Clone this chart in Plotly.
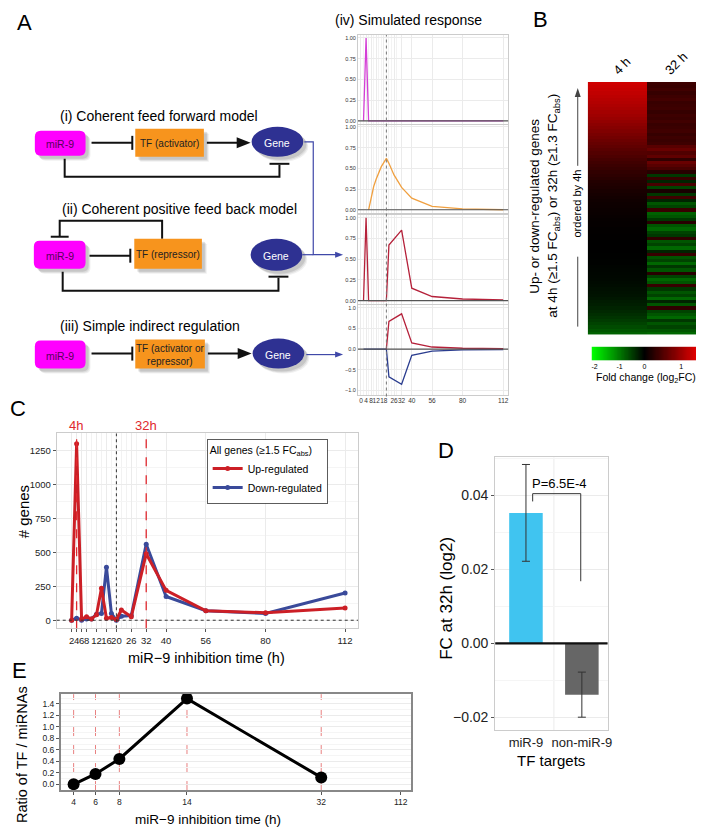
import plotly.graph_objects as go
import numpy as np

W, H = 704, 827
FONT = "Liberation Sans, Arial, Helvetica, sans-serif"


def X(p):
    return p / W


def Y(p):
    return 1 - p / H


# ---------------- data ----------------
# Panel A (iv) simulated response
sim_t = [0, 2, 4, 6, 8, 10, 12, 16, 20, 22, 26, 32, 40, 56, 80, 112]
sim_mir9 = [None, 0, 1, 0, 0, 0, 0, 0, 0, 0, 0, 0, 0, 0, 0, 0]
sim_tf = [None, None, None, 0, 0.15, 0.28, 0.37, 0.52, 0.62, 0.56, 0.42, 0.27, 0.14, 0.04, 0.01, 0.0]
sim_gene_fb = [None, 0, 1, 0, 0, 0, 0, 0, 0, 0.67, 0.74, 0.85, 0.15, 0.05, 0.02, 0.01]
sim_gene_up = [None, None, None, None, None, None, None, None, 0, 0.67, 0.74, 0.85, 0.15, 0.05, 0.02, 0.01]
sim_gene_down = [None, 0, 0, 0, 0, 0, 0, 0, 0, -0.67, -0.74, -0.85, -0.15, -0.05, -0.02, -0.01]
sim_ticks = [0, 4, 8, 12, 18, 26, 32, 40, 56, 80, 112]

# Panel B heatmap (rows ordered by 4h, top to bottom)
heat_cols = ["4 h", "32 h"]
heat_4h = [1.30, 1.27, 1.24, 1.21, 1.18, 1.15, 1.12, 1.09, 1.06, 1.03,
           1.00, 0.96, 0.92, 0.88, 0.84, 0.80, 0.76, 0.72, 0.68, 0.64,
           0.60, 0.56, 0.52, 0.48, 0.44, 0.40, 0.37, 0.34, 0.31, 0.28,
           0.25, 0.22, 0.20, 0.18, 0.16, 0.14, 0.12, 0.10, 0.09, 0.08,
           0.07, 0.06, 0.05, 0.04, 0.03, 0.03, 0.02, 0.02, 0.01, 0.01,
           0.00, 0.00, 0.00, 0.00, -0.01, -0.01, -0.02, -0.02, -0.03, -0.04,
           -0.05, -0.06, -0.07, -0.08, -0.10, -0.12, -0.14, -0.16, -0.19, -0.22,
           -0.25, -0.29, -0.33, -0.38, -0.43, -0.49, -0.55, -0.62, -0.70, -0.80]
heat_32h = [0.38, 0.36, 0.40, 0.34, 0.38, 0.42, 0.35, 0.37, 0.39, 0.33,
            0.38, 0.36, 0.41, 0.35, 0.37, 0.40, 0.34, 0.38, 0.36, 0.39,
            0.55, 0.65, 0.50, 0.60, 0.30, 0.65, 0.55, 0.45,
            0.25, -0.45, 0.35, -0.30, 0.45, -0.55, 0.15, -0.45, 0.40, -0.30,
            -0.70, -0.55, 0.35, -0.80, -0.70, -0.45, 0.25, -0.70, -0.85, -0.55,
            -0.45, 0.30, -0.70, -0.55, -0.85, -0.30, 0.35, -0.70, -0.55, -0.85,
            -0.45, -0.70, 0.25, -0.55, -0.85, -0.70, 0.35, -0.45, -0.70, -0.55,
            -0.85, -0.30, -0.70, 0.30, -0.55, -0.70, -0.85, -0.45, -0.70, -0.55,
            -0.70, -0.85]
cb_ticks = [-2, -1, 0, 1]

# Panel C
c_time = [2, 4, 6, 8, 10, 12, 14, 16, 18, 20, 22, 26, 32, 40, 56, 80, 112]
c_up = [0, 1300, 10, 25, 10, 40, 235, 15, 20, 5, 75, 25, 490, 220, 70, 55, 90]
c_down = [0, 15, 0, 10, 10, 45, 50, 390, 50, 0, 30, 35, 560, 175, 70, 50, 200]
c_ticks = [2, 4, 6, 8, 12, 16, 20, 26, 32, 40, 56, 80, 112]

# Panel D
d_cats = ["miR-9", "non-miR-9"]
d_vals = [0.0353, -0.0139]
d_err_plus = [0.0131, 0.0061]
d_err_minus = [0.0131, 0.0061]

# Panel E
e_time = [4, 6, 8, 14, 32]
e_ratio = [0.0, 0.18, 0.44, 1.49, 0.12]
e_ticks = [4, 6, 8, 14, 32, 112]

# ---------------- scales (non-linear axes) ----------------
E_KNOT_T = [4, 6, 8, 14, 32, 112]
E_KNOT_U = [66, 88, 112, 180, 315, 395]


def e_scale(t):
    return list(np.interp(t, E_KNOT_T, E_KNOT_U))


CB_KNOT_V = [-2.12, -2, -1, 0, 1, 1.6]
CB_KNOT_U = [587, 590, 615, 640, 677, 699]


def cb_scale(v):
    return list(np.interp(v, CB_KNOT_V, CB_KNOT_U))


ZMIN, ZMAX = -2.1, 1.6
mid = (0 - ZMIN) / (ZMAX - ZMIN)
heat_scale = [[0, "#00ff00"], [mid, "#000000"], [1, "#ff0000"]]

fig = go.Figure()
layout = dict(width=W, height=H, margin=dict(l=0, r=0, t=0, b=0),
              paper_bgcolor="white", plot_bgcolor="white",
              font=dict(family=FONT, color="#000"), showlegend=True)

GRID = "#ebebeb"

# ---------- Panel A(iv): 4 stacked sim plots ----------
sim_dom = [(26, 115), (116, 204), (206, 295), (296, 386)]
sim_yr = [[-0.036, 1.036], [-0.036, 1.024], [-0.036, 1.036], [-1.096, 1.072]]
sim_series = [
    [(sim_mir9, "#d43fd6")],
    [(sim_tf, "#f0a040")],
    [(sim_gene_fb, "#b5213a")],
    [(sim_gene_down, "#2b3d8f"), (sim_gene_up, "#b5213a")],
]
sim_minor = [2, 6, 10, 14, 16, 20, 22, 24, 28]
for i in range(4):
    n = i + 1
    xa = "x" if n == 1 else f"x{n}"
    ya = "y" if n == 1 else f"y{n}"
    for vals, col in sim_series[i]:
        fig.add_trace(go.Scatter(x=sim_t, y=vals, mode="lines", line=dict(color=col, width=1.3),
                                 xaxis=xa, yaxis=ya, showlegend=False, hoverinfo="skip"))
    top, bot = sim_dom[i]
    layout[f"xaxis{'' if n == 1 else n}"] = dict(
        domain=[X(352), X(503)], anchor=ya, range=[-2.35, 115.9],
        tickvals=sim_ticks, showticklabels=(n == 4), tickfont=dict(size=6.5, color="#333"),
        tickangle=0, ticks="", gridcolor=GRID, gridwidth=1, zeroline=False,
        minor=dict(tickvals=sim_minor, showgrid=True, gridcolor="#f3f3f3"),
        showline=True, linecolor="#cccccc", mirror=True)
    if n == 4:
        yt = [-1.0, -0.5, 0.0, 0.5, 1.0]
        fmt = ".1f"
    else:
        yt = [0, 0.25, 0.5, 0.75, 1.0]
        fmt = ".2f"
    layout[f"yaxis{'' if n == 1 else n}"] = dict(
        domain=[Y(bot), Y(top)], anchor=xa, range=sim_yr[i], tickvals=yt, tickformat=fmt,
        tickfont=dict(size=5.5, color="#333"), ticks="", gridcolor=GRID, zeroline=False,
        showline=True, linecolor="#cccccc", mirror=True)

# ---------- Panel B heatmap ----------
z = [[a, b] for a, b in zip(heat_4h, heat_32h)]
fig.add_trace(go.Heatmap(z=z, x=[0, 1], y=list(range(len(heat_4h))), colorscale=heat_scale,
                         zmin=ZMIN, zmax=ZMAX, showscale=False, xaxis="x5", yaxis="y5",
                         hoverinfo="skip"))
layout["xaxis5"] = dict(domain=[X(583), X(703)], anchor="y5", range=[-0.5, 1.5], visible=False)
layout["yaxis5"] = dict(domain=[Y(326), Y(73)], anchor="x5", range=[len(heat_4h) - 0.5, -0.5],
                        visible=False)

# colour key strip
cb_v = list(np.linspace(-2.12, 1.6, 120))
fig.add_trace(go.Heatmap(z=[cb_v], x=cb_scale(cb_v), y=[0], colorscale=heat_scale,
                         zmin=ZMIN, zmax=ZMAX, showscale=False, xaxis="x6", yaxis="y6",
                         hoverinfo="skip"))
layout["xaxis6"] = dict(domain=[X(587), X(699)], anchor="y6", range=[587, 699],
                        tickvals=cb_scale(cb_ticks), ticktext=[str(t) for t in cb_ticks],
                        tickfont=dict(size=7), ticks="", showgrid=False, zeroline=False,
                        ticklabelstandoff=0, tickangle=0)
layout["yaxis6"] = dict(domain=[Y(352), Y(338)], anchor="x6", range=[-0.5, 0.5], visible=False)

# ---------- Panel C ----------
fig.add_trace(go.Scatter(x=c_time, y=c_down, mode="lines+markers", name="Down-regulated",
                         line=dict(color="#3a4a9a", width=3), marker=dict(size=5, color="#3a4a9a"),
                         xaxis="x7", yaxis="y7"))
fig.add_trace(go.Scatter(x=c_time, y=c_up, mode="lines+markers", name="Up-regulated",
                         line=dict(color="#cc1f26", width=3), marker=dict(size=5, color="#cc1f26"),
                         xaxis="x7", yaxis="y7"))
c_minor = [10, 14, 18, 22, 24, 28]
layout["xaxis7"] = dict(domain=[X(49), X(352)], anchor="y7", range=[-4, 117.2], tickvals=c_ticks,
                        tickfont=dict(size=9.5, color="#222"), tickangle=0, ticks="outside", ticklen=3,
                        tickcolor="#555", gridcolor=GRID, zeroline=False,
                        minor=dict(tickvals=c_minor, showgrid=True, gridcolor="#f2f2f2"),
                        showline=True, linecolor="#cccccc", mirror=True)
layout["yaxis7"] = dict(domain=[Y(620), Y(425)], anchor="x7", range=[-59, 1375],
                        tickvals=[0, 250, 500, 750, 1000, 1250], tickfont=dict(size=9.5, color="#222"),
                        ticks="outside", ticklen=3, tickcolor="#555", gridcolor=GRID, zeroline=False,
                        minor=dict(dtick=125, showgrid=True, gridcolor="#f5f5f5"),
                        showline=True, linecolor="#cccccc", mirror=True)
layout["legend"] = dict(x=X(200), y=Y(431), xanchor="left", yanchor="top",
                        bordercolor="#333", borderwidth=0.8, bgcolor="white",
                        font=dict(size=10.5, family=FONT), tracegroupgap=0,
                        title=dict(text="All genes (≥1.5 FC<sub>abs</sub>)", font=dict(size=10.5)),
                        traceorder="reversed", itemwidth=30)

# ---------- Panel D ----------
fig.add_trace(go.Bar(x=d_cats, y=d_vals, marker=dict(color=["#40c4f0", "#666666"], line=dict(width=0)),
                     width=0.6, showlegend=False, xaxis="x8", yaxis="y8", hoverinfo="skip",
                     error_y=dict(type="data", array=d_err_plus, arrayminus=d_err_minus,
                                  color="#333", thickness=1, width=4)))
layout["xaxis8"] = dict(domain=[X(490), X(603)], anchor="y8", range=[-0.55, 1.46],
                        tickfont=dict(size=13, color="#222"), ticks="", showgrid=False, tickangle=0,
                        showline=True, linecolor="#cccccc", mirror=True)
layout["yaxis8"] = dict(domain=[Y(722), Y(449)], anchor="x8", range=[-0.0235, 0.0503],
                        tickvals=[-0.02, 0.0, 0.02, 0.04], tickformat=".2f",
                        tickfont=dict(size=14, color="#222"), ticks="outside", ticklen=3,
                        tickcolor="#555", gridcolor=GRID, zeroline=False,
                        minor=dict(dtick=0.01, showgrid=True, gridcolor="#f5f5f5"),
                        showline=True, linecolor="#cccccc", mirror=True)

# ---------- Panel E ----------
fig.add_trace(go.Scatter(x=e_scale(e_time), y=e_ratio, mode="lines+markers", cliponaxis=False,
                         line=dict(color="#000", width=3), marker=dict(size=12, color="#000"),
                         showlegend=False, xaxis="x9", yaxis="y9", hoverinfo="skip"))
layout["xaxis9"] = dict(domain=[X(53), X(405)], anchor="y9", range=[53, 405],
                        tickvals=e_scale(e_ticks), ticktext=[str(t) for t in e_ticks],
                        tickfont=dict(size=8.5, color="#222"), tickangle=0, ticks="outside", ticklen=3,
                        tickcolor="#555", showgrid=False, zeroline=False,
                        showline=True, linecolor="#888", linewidth=1.5, mirror=True)
layout["yaxis9"] = dict(domain=[Y(782), Y(686)], anchor="x9", range=[-0.1, 1.567],
                        tickvals=[0, 0.2, 0.4, 0.6, 0.8, 1.0, 1.2, 1.4], tickformat=".1f",
                        tickfont=dict(size=8.5, color="#222"), ticks="outside", ticklen=3,
                        tickcolor="#555", gridcolor=GRID, zeroline=False,
                        minor=dict(dtick=0.1, showgrid=True, gridcolor="#f5f5f5"),
                        showline=True, linecolor="#888", linewidth=1.5, mirror=True)

# ---------------- shapes & annotations ----------------
shapes = []
ann = []


def txt(x, y, s, size, color="#000", angle=0, xanchor="center", yanchor="middle"):
    ann.append(dict(x=X(x), y=Y(y), xref="paper", yref="paper", text=s, showarrow=False,
                    font=dict(size=size, color=color, family=FONT), textangle=angle,
                    xanchor=xanchor, yanchor=yanchor))


def pline(pts, color="#111", width=2, dash=None):
    d = "M " + " L ".join(f"{X(a):.5f},{Y(b):.5f}" for a, b in pts)
    ln = dict(color=color, width=width)
    if dash:
        ln["dash"] = dash
    shapes.append(dict(type="path", path=d, xref="paper", yref="paper", line=ln))


def tri(pts, color):
    d = "M " + " L ".join(f"{X(a):.5f},{Y(b):.5f}" for a, b in pts) + " Z"
    shapes.append(dict(type="path", path=d, xref="paper", yref="paper", fillcolor=color,
                       line=dict(width=0)))


def rrect(x0, y0, x1, y1, r, fill, line_w=0):
    P = lambda a, b: f"{X(a):.5f},{Y(b):.5f}"
    d = (f"M {P(x0 + r, y0)} L {P(x1 - r, y0)} Q {P(x1, y0)} {P(x1, y0 + r)} "
         f"L {P(x1, y1 - r)} Q {P(x1, y1)} {P(x1 - r, y1)} L {P(x0 + r, y1)} "
         f"Q {P(x0, y1)} {P(x0, y1 - r)} L {P(x0, y0 + r)} Q {P(x0, y0)} {P(x0 + r, y0)} Z")
    shapes.append(dict(type="path", path=d, xref="paper", yref="paper", fillcolor=fill,
                       line=dict(width=line_w)))


def shadow_rect(x0, y0, x1, y1, r=4):
    for k, a in [(5, 0.06), (4, 0.08), (3, 0.10)]:
        rrect(x0 + k, y0 + k, x1 + k, y1 + k, r, f"rgba(0,0,0,{a})")


def shadow_ell(cx, cy, rx, ry):
    for k, a in [(5, 0.06), (4, 0.08), (3, 0.10)]:
        shapes.append(dict(type="circle", xref="paper", yref="paper",
                           x0=X(cx - rx + k), x1=X(cx + rx + k), y0=Y(cy + ry + k), y1=Y(cy - ry + k),
                           fillcolor=f"rgba(0,0,0,{a})", line=dict(width=0)))


def mir_box(x0, y0, x1, y1):
    shadow_rect(x0, y0, x1, y1, 6)
    rrect(x0, y0, x1, y1, 6, "#ff00ff")
    txt((x0 + x1) / 2, (y0 + y1) / 2 + 1, "miR-9", 10.5, color="#5a005a")


def tf_box(x0, y0, x1, y1, label):
    shadow_rect(x0, y0, x1, y1, 0.5)
    shapes.append(dict(type="rect", xref="paper", yref="paper", x0=X(x0), x1=X(x1), y0=Y(y1), y1=Y(y0),
                       fillcolor="#f7941d", line=dict(width=0)))
    txt((x0 + x1) / 2, (y0 + y1) / 2 + 1, label, 10, color="#222")


def gene(cx, cy, rx, ry):
    shadow_ell(cx, cy, rx, ry)
    shapes.append(dict(type="circle", xref="paper", yref="paper",
                       x0=X(cx - rx), x1=X(cx + rx), y0=Y(cy + ry), y1=Y(cy - ry),
                       fillcolor="#2e3192", line=dict(width=0)))
    txt(cx, cy + 1, "Gene", 10.5, color="white")


def inhib(x0, x1, y, bar=7):
    pline([(x0, y), (x1, y)])
    pline([(x1, y - bar), (x1, y + bar)])


def activ(x0, x1, y):
    pline([(x0, y), (x1 - 12, y)])
    tri([(x1, y), (x1 - 14, y - 5.5), (x1 - 14, y + 5.5)], "#111")


BLUE = "#3f48a8"

# Panel letters
txt(17, 14, "A", 22)
txt(536, 11, "B", 22)
txt(10, 400, "C", 22)
txt(441, 442, "D", 22)
txt(12, 662, "E", 22)

# (i)
txt(152, 107, "(i) Coherent feed forward model", 14)
mir_box(27, 122, 78, 147)
tf_box(128, 120, 197, 148, "TF (activator)")
gene(271, 133, 26, 15)
inhib(84, 125, 134)
activ(200, 244, 134)
pline([(57, 150), (57, 168), (273, 168), (273, 156)])
pline([(263, 155), (283, 155)])

# (ii)
txt(172, 200, "(ii) Coherent positive feed back model", 14)
pline([(155, 230), (155, 212), (52, 212), (52, 228)])
pline([(43, 228), (61, 228)])
mir_box(26, 232, 78, 260)
tf_box(127, 230, 195, 260, "TF (repressor)")
gene(270, 246, 26, 16)
inhib(82, 123, 247)
pline([(55, 263), (55, 282), (272, 282), (272, 269)])
pline([(262, 268), (282, 268)])

# (iii)
txt(143, 317, "(iii) Simple indirect regulation", 14)
mir_box(27, 332, 78, 360)
tf_box(128, 331, 198, 360, "TF (activator or<br>repressor)")
gene(272, 345, 26, 15)
inhib(84, 125, 345)
activ(201, 245, 345)

# blue connectors into the simulation panels
pline([(298, 133), (307, 133), (307, 246), (330, 246)], color=BLUE, width=1.2)
pline([(296, 246), (307, 246)], color=BLUE, width=1.2)
tri([(337, 246), (329, 243), (329, 249)], BLUE)
pline([(300, 346), (330, 346)], color=BLUE, width=1.2)
tri([(337, 346), (329, 343), (329, 349)], BLUE)

# (iv) title & shared dashed line
txt(403, 11, "(iv) Simulated response", 14)
for n in range(1, 5):
    xr = "x domain" if n == 1 else f"x{n} domain"
    yr = "y" if n == 1 else f"y{n}"
    shapes.append(dict(type="line", xref=xr, yref=yr, x0=0, x1=1, y0=0, y1=0,
                       line=dict(color="#555", width=1.2), layer="above"))
shapes.append(dict(type="line", xref="x4", yref="paper", x0=20, x1=20, y0=Y(388), y1=Y(26),
                   line=dict(color="#777", width=1, dash="dot")))

# Panel B labels
txt(618, 57, "4 h", 13, angle=-45)
txt(672, 55, "32 h", 13, angle=-45)
txt(530, 197, "Up- or down-regulated genes", 13.5, angle=-90)
txt(549, 197, "at 4h (≥1.5 FC<sub>abs</sub>) or 32h (≥1.3 FC<sub>abs</sub>)", 13.5, angle=-90)
txt(572, 195, "ordered by 4h", 11, angle=-90)
pline([(573, 318), (573, 248)], color="#444", width=1)
pline([(573, 157), (573, 86)], color="#444", width=1)
tri([(573, 79), (570, 88), (576, 88)], "#444")
txt(642, 369, "Fold change (log<sub>2</sub>FC)", 10.5)

# Panel C decorations
for t in [4, 32]:
    shapes.append(dict(type="line", xref="x7", yref="y7 domain", x0=t, x1=t, y0=0, y1=1,
                       line=dict(color="#e0282e", width=1.3, dash="dash")))
shapes.append(dict(type="line", xref="x7", yref="y7 domain", x0=20, x1=20, y0=0, y1=1,
                   line=dict(color="#333", width=1, dash="dot")))
shapes.append(dict(type="line", xref="x7 domain", yref="y7", x0=0, x1=1, y0=0, y1=0,
                   line=dict(color="#333", width=1, dash="dot")))
txt(68, 417, "4h", 13, color="#e0282e")
txt(139, 417, "32h", 13, color="#e0282e")
txt(15, 503, "# genes", 15, angle=-90)
txt(200, 650, "miR−9 inhibition time (h)", 14.5)

# Panel D decorations
shapes.append(dict(type="line", xref="x8", yref="y8 domain", x0=0.5, x1=0.5, y0=0, y1=1,
                   line=dict(color=GRID, width=1), layer="below"))
shapes.append(dict(type="line", xref="x8 domain", yref="y8", x0=0, x1=1, y0=0, y1=0,
                   line=dict(color="#111", width=2.2)))
shapes.append(dict(type="path", xref="x8", yref="y8",
                   path="M 0.12,0.0384 L 0.12,0.0405 L 0.98,0.0405 L 0.98,0.0168",
                   line=dict(color="#333", width=1)))
ann.append(dict(x=0.6, y=0.0432, xref="x8", yref="y8", text="P=6.5E-4", showarrow=False,
                font=dict(size=13, family=FONT)))
txt(441, 590, "FC at 32h (log2)", 17, angle=-90)
txt(546, 752, "TF targets", 15)

# Panel E decorations
for t in e_time:
    u = e_scale([t])[0]
    shapes.append(dict(type="line", xref="x9", yref="y9 domain", x0=u, x1=u,
                       y0=0, y1=1, line=dict(color="#e88080", width=1, dash="dash"), layer="below"))
txt(14, 746, "Ratio of TF / miRNAs", 14.5, angle=-90)
txt(201, 811, "miR−9 inhibition time (h)", 13.5)

layout["shapes"] = shapes
layout["annotations"] = ann
fig.update_layout(**layout)
fig.write_html("out.html")
